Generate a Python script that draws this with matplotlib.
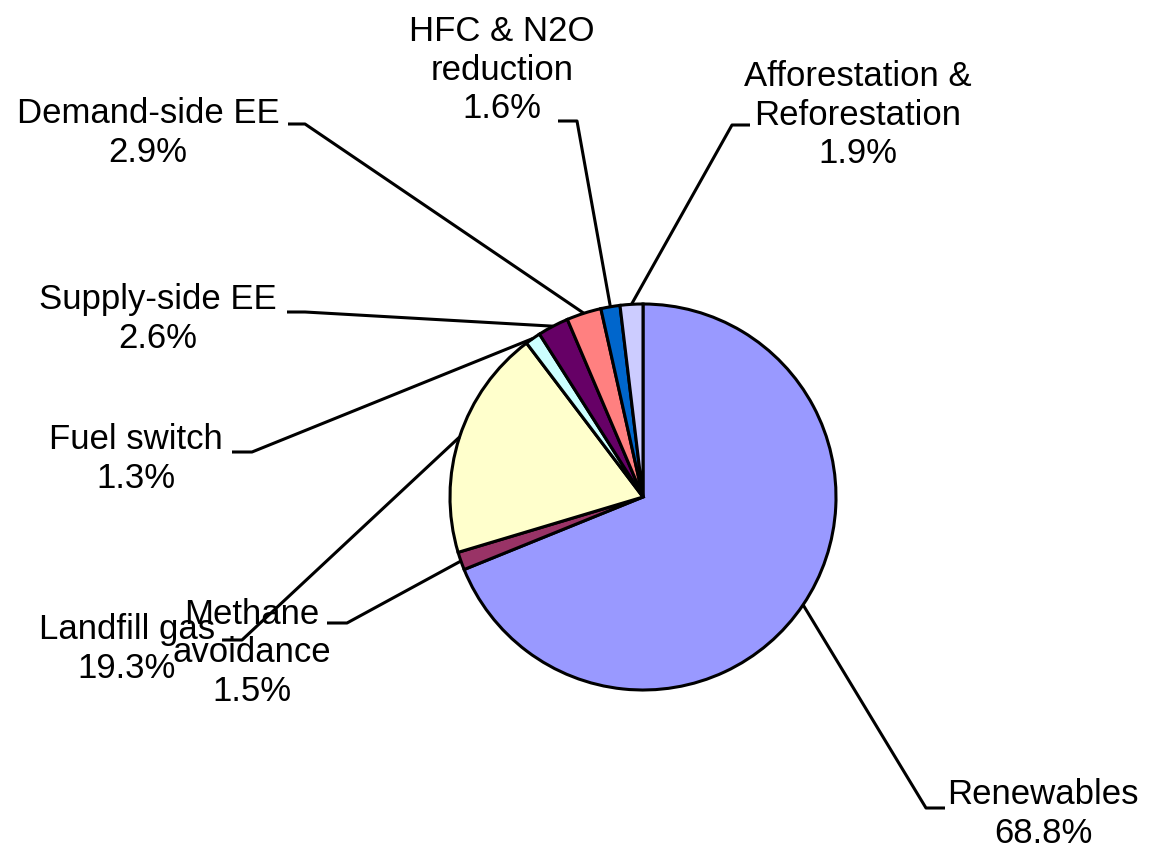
import numpy as np
import matplotlib
matplotlib.use("Agg")
import matplotlib.pyplot as plt

W, H = 1151, 850

# data, clockwise from 12 o'clock
categories = ["Renewables", "Methane\navoidance", "Landfill gas", "Fuel switch",
              "Supply-side EE", "Demand-side EE", "HFC & N2O\nreduction",
              "Afforestation &\nReforestation"]
shares = [68.8, 1.5, 19.3, 1.3, 2.6, 2.9, 1.6, 1.9]
colors = ["#9999FF", "#993366", "#FFFFCC", "#CCFFFF",
          "#660066", "#FF8080", "#0066CC", "#CCCCFF"]

# label layout in pixels from top-left: text centre, elbow corner, elbow end
text_pos = [(1043, 814), (252, 653), (127, 649), (136, 459),
            (158, 319), (148, 133), (502, 70), (858, 115)]
elbow_corner = [(926, 808), (347, 623), (242, 640), (252, 452),
                (305, 312), (305, 124), (577, 121), (732, 125)]
elbow_end = [(945, 808), (327, 623), (222, 640), (232, 452),
             (287, 312), (288, 124), (558, 121), (750, 125)]

plt.rcParams['font.family'] = ['Liberation Sans', 'DejaVu Sans']

fig = plt.figure(figsize=(W / 100, H / 100), dpi=100)
ax = fig.add_axes([0, 0, 1, 1])

cx, cy, rad = 643, H - 497, 193
wedges, _ = ax.pie(shares, colors=colors, startangle=90, counterclock=False,
                   center=(cx, cy), radius=rad, frame=True,
                   wedgeprops=dict(edgecolor="black", linewidth=2.2))
ax.set_xlim(0, W)
ax.set_ylim(0, H)
ax.set_aspect("equal")
ax.axis("off")

for w, name, val, tp, ec, ee in zip(wedges, categories, shares, text_pos,
                                    elbow_corner, elbow_end):
    mid = np.deg2rad((w.theta1 + w.theta2) / 2)
    px = cx + rad * np.cos(mid)
    py = cy + rad * np.sin(mid)
    ax.plot([px, ec[0], ee[0]], [py, H - ec[1], H - ee[1]],
            color="black", lw=2.2, solid_capstyle="butt", zorder=3)
    ax.text(tp[0], H - tp[1], f"{name}\n{val:.1f}%", ha="center", va="center",
            multialignment="center", fontsize=25, zorder=4)

fig.savefig("out.png", dpi=100)
